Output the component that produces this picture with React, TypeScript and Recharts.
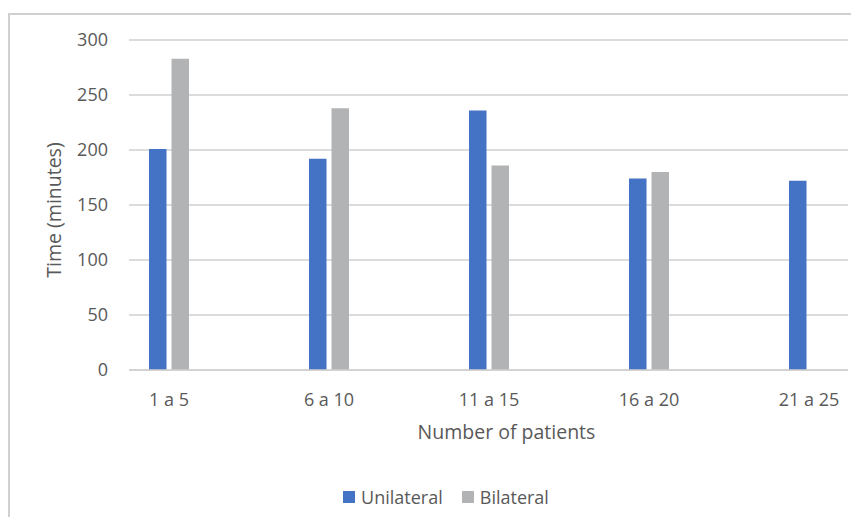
import React from 'react';
import { BarChart, Bar, XAxis, YAxis, CartesianGrid, Legend } from 'recharts';

const categories = ['1 a 5', '6 a 10', '11 a 15', '16 a 20', '21 a 25'];
const unilateral = [201, 192, 236, 174, 172];
const bilateral: (number | null)[] = [283, 238, 186, 180, null];
const yTicks = [0, 50, 100, 150, 200, 250, 300];
const seriesOrder = ['Unilateral', 'Bilateral'];

const data = categories.map((name, i) => ({
    pos: i + 1,
    name,
    unilateral: unilateral[i],
    bilateral: bilateral[i],
}));

const font = '"Open Sans", sans-serif';
const textColor = '#595959';
const gridColor = '#D0D0D0';

const renderLegend = (props: any) => {
    const items = [...(props.payload || [])].sort(
        (a: any, b: any) => seriesOrder.indexOf(a.value) - seriesOrder.indexOf(b.value)
    );
    return (
        <div
            style={{
                display: 'flex',
                justifyContent: 'center',
                alignItems: 'center',
                fontFamily: font,
                fontSize: 18,
                color: textColor,
            }}
        >
            {items.map((entry: any, i: number) => (
                <span key={i} style={{ display: 'flex', alignItems: 'center', marginRight: i === 0 ? 19 : 0 }}>
                    <span style={{ width: 12, height: 12, background: entry.color, marginRight: 6 }} />
                    {entry.value}
                </span>
            ))}
        </div>
    );
};

const XTitle = (props: any) => {
    const vb = props.viewBox;
    return (
        <text
            x={vb.x + vb.width / 2 + 18}
            y={vb.y + 61}
            textAnchor="middle"
            dominantBaseline="central"
            fill={textColor}
            fontFamily={font}
            fontSize={19.5}
        >
            Number of patients
        </text>
    );
};

const YTitle = (props: any) => {
    const vb = props.viewBox;
    const x = vb.x + 43;
    const y = vb.y + vb.height / 2 + 5;
    return (
        <text
            x={x}
            y={y}
            transform={`rotate(-90 ${x} ${y})`}
            textAnchor="middle"
            dominantBaseline="central"
            fill={textColor}
            fontFamily={font}
            fontSize={19.5}
        >
            Time (minutes)
        </text>
    );
};

const App: React.FC = () => {
    return (
        <div style={{ width: 851, height: 509, overflow: 'hidden', paddingTop: 5, boxSizing: 'border-box' }}>
            <div style={{ width: 876, height: 530, border: '2px solid #D0D0D0', boxSizing: 'border-box' }}>
                <BarChart
                    width={872}
                    height={500}
                    data={data}
                    barGap={5}
                    margin={{ top: 25, right: 34, left: 0, bottom: 85 }}
                >
                    <CartesianGrid vertical={false} stroke={gridColor} strokeWidth={1.5} />
                    <XAxis
                        dataKey="pos"
                        type="number"
                        domain={[0.75, 5.24375]}
                        allowDataOverflow
                        ticks={[1, 2, 3, 4, 5]}
                        interval={0}
                        tickFormatter={(v: number) => categories[v - 1]}
                        axisLine={{ stroke: gridColor, strokeWidth: 1.5 }}
                        tickLine={false}
                        tickSize={0}
                        tickMargin={23}
                        height={60}
                        tick={{ fill: textColor, fontFamily: font, fontSize: 18 }}
                        label={{ content: XTitle }}
                    />
                    <YAxis
                        domain={[0, 300]}
                        ticks={yTicks}
                        interval={0}
                        width={119}
                        axisLine={false}
                        tickLine={false}
                        tickSize={0}
                        tickMargin={21}
                        tick={{ fill: textColor, fontFamily: font, fontSize: 18 }}
                        label={{ content: YTitle }}
                    />
                    <Legend
                        layout="horizontal"
                        verticalAlign="middle"
                        align="center"
                        content={renderLegend}
                        wrapperStyle={{ top: 470, left: 0, width: 872 }}
                    />
                    <Bar dataKey="unilateral" name="Unilateral" fill="#4472C4" barSize={17.5} isAnimationActive={false} />
                    <Bar dataKey="bilateral" name="Bilateral" fill="#B2B3B4" barSize={17.5} isAnimationActive={false} />
                </BarChart>
            </div>
        </div>
    );
};

export default App;
